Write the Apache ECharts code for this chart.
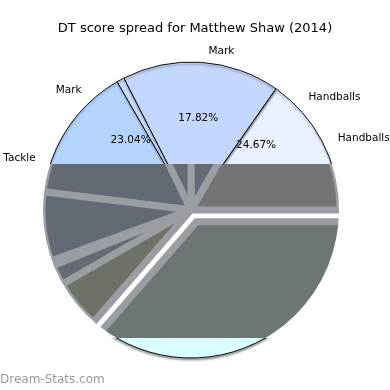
<!DOCTYPE html>
<html><head><meta charset="utf-8">
<script src="https://cdn.jsdelivr.net/npm/echarts@6/dist/echarts.min.js"></script>
<style>
html,body{margin:0;padding:0;background:#fff;}
#wrap{position:relative;width:390px;height:390px;overflow:hidden;}
#c1,#band,#c2{position:absolute;left:0;top:0;width:390px;height:390px;}
#band{clip-path:inset(164px 0 52px 0);background:#fff;}
#c2{clip-path:circle(148px at 191px 210px);}
</style></head><body>
<div id="wrap"><div id="c1"></div><div id="band"><div id="c2"></div></div></div>
<script>
// ---- data (angular shares, degrees of 360) ----
const titleText = 'DT score spread for Matthew Shaw (2014)';
const watermark = 'Dream-Stats.com';

// label layer: names and percentage texts
const labelNames = ['Handballs', 'Handballs', 'Mark', 'Mark', 'Tackle', ''];
const labelSpan  = [18, 18, 63, 28, 32, 201];
const pctText    = ['', '24.67%', '17.82%', '23.04%', '', ''];

// front (light) wedges
const frontNames  = ['Handballs', 'Mark', 'Mark ', 'Mark  ', 'Tackle', 'Kick', 'Other'];
const frontValues = [55, 62, 3, 80, 35, 75, 50];
const frontColors = ['#e9f1ff', '#c4d8ff', '#c8dcff', '#b4d4ff', '#cfe6ff', '#d9ffff', '#e2f4ff'];

// shadow (dark) wedges
const shadowNames  = ['s1', 's2', 's3', 's4', 's5', 's6', 's7', 's8', 's9'];
const shadowValues = [60, 30, 26, 57, 27, 2, 8, 19, 131];
const shadowColors = ['#747474', '#656a74', '#656a74', '#646a73', '#646a74', '#656b72', '#656b72', '#6d7268', '#6e7674'];
const shadowSelected = [false, false, false, false, false, false, false, false, true];

const CX = 191, CY = 210, R = 148;
const FONT = 'DejaVu Sans';

const c1 = echarts.init(document.getElementById('c1'), null, {renderer: 'canvas'});
c1.setOption({
  animation: false,
  backgroundColor: '#fff',
  title: {
    text: titleText, left: 'center', top: 17,
    textStyle: {fontFamily: FONT, fontSize: 13, fontWeight: 'normal', color: '#000'}
  },
  graphic: [{
    type: 'text', left: 0, top: 374,
    style: {text: watermark, fontFamily: FONT, fontSize: 12, fill: '#999'}
  }],
  series: [
    {
      type: 'pie', silent: true, center: [CX, CY], radius: R,
      startAngle: 0, clockwise: false, avoidLabelOverlap: false,
      label: {show: false}, labelLine: {show: false},
      itemStyle: {borderColor: '#111', borderWidth: 1,
        shadowColor: 'rgba(0,0,0,0.35)', shadowBlur: 2, shadowOffsetY: 2},
      data: frontNames.map((n, i) => ({name: n, value: frontValues[i], itemStyle: {color: frontColors[i]}}))
    },
    {
      type: 'pie', silent: true, center: [CX, CY], radius: R,
      startAngle: 18, clockwise: false, avoidLabelOverlap: false,
      itemStyle: {color: 'rgba(0,0,0,0)', borderWidth: 0},
      label: {show: true, position: 'outside', fontFamily: FONT, fontSize: 10.5, color: '#000',
        formatter: p => labelNames[p.dataIndex]},
      labelLine: {show: false, length: 11, length2: 0},
      data: labelNames.map((n, i) => ({name: 'L' + i, value: labelSpan[i]}))
    },
    {
      type: 'pie', silent: true, center: [CX, CY], radius: [30, R],
      startAngle: 18, clockwise: false, avoidLabelOverlap: false,
      itemStyle: {color: 'rgba(0,0,0,0)', borderWidth: 0},
      label: {show: true, position: 'inside', fontFamily: FONT, fontSize: 10.5, color: '#000',
        formatter: p => pctText[p.dataIndex]},
      labelLine: {show: false},
      data: labelNames.map((n, i) => ({name: 'P' + i, value: labelSpan[i]}))
    }
  ]
});

const c2 = echarts.init(document.getElementById('c2'), null, {renderer: 'canvas'});
c2.setOption({
  animation: false,
  backgroundColor: 'rgba(0,0,0,0)',
  series: [{
    type: 'pie', silent: true, center: [CX, CY], radius: 149,
    startAngle: 0, clockwise: false, avoidLabelOverlap: false,
    selectedMode: 'multiple', selectedOffset: 13,
    label: {show: false}, labelLine: {show: false},
    itemStyle: {borderColor: '#9a9ea3', borderWidth: 7},
    data: shadowNames.map((n, i) => ({name: n, value: shadowValues[i], selected: shadowSelected[i],
      itemStyle: {color: shadowColors[i]}}))
  }]
});
</script>
</body></html>
